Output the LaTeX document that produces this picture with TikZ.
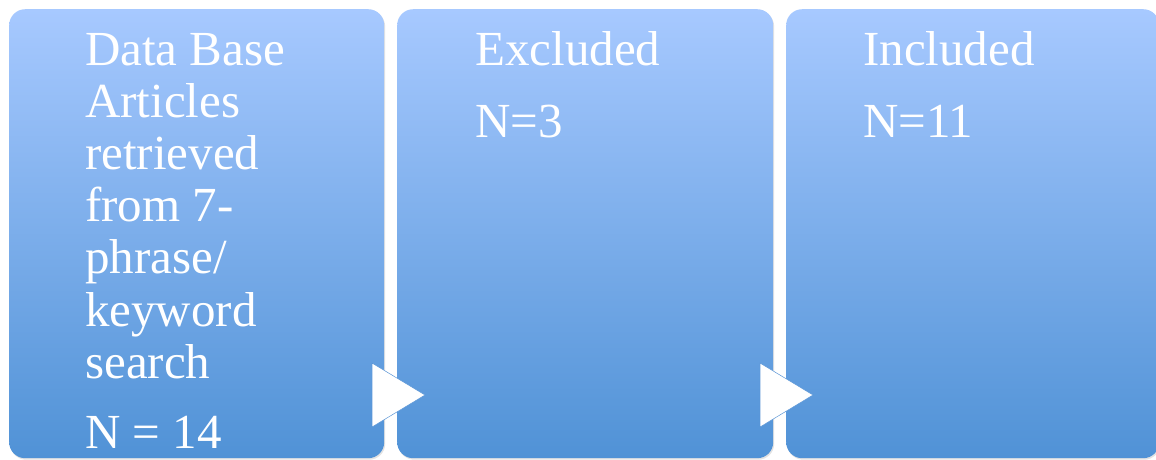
\documentclass[tikz,border=0pt]{standalone}
\usepackage{fontspec}
\setmainfont{Liberation Serif}
\usetikzlibrary{shadows}
\definecolor{boxtop}{RGB}{167,201,255}
\definecolor{boxbot}{RGB}{80,146,214}
\definecolor{tribord}{RGB}{91,150,215}
\begin{document}
\begin{tikzpicture}[x=1pt,y=-1pt,
  stagebox/.style={rectangle, rounded corners=16pt, top color=boxtop, bottom color=boxbot,
    draw=none, minimum width=375pt, minimum height=449pt, anchor=north west, inner sep=0pt,
    drop shadow={opacity=0.22, shadow xshift=1pt, shadow yshift=-1.5pt}},
  stagetext/.style={anchor=base west, inner sep=0pt, text=white,
    font=\fontsize{49}{52.2}\selectfont},
  arrowtri/.style={fill=white, draw=tribord, line width=0.5pt, line join=miter}]
\useasboundingbox (0,0) rectangle (1156,459);
\fill[white] (0,0) rectangle (1156,459);
\begin{scope}
\clip (0,0) rectangle (1156,459);
\node[stagebox] (b1) at (9,9) {};
\node[stagebox, minimum width=376pt] (b2) at (397,9) {};
\node[stagebox, minimum width=373pt] (b3) at (786,9) {};
\node[stagetext] (t1) at (85,65) {\parbox[t]{290pt}{\raggedright Data Base\\ Articles\\ retrieved\\ from 7-\\ phrase/\\ keyword\\ search\\[17.8pt] N = 14}};
\node[stagetext] (t2) at (475,65) {\parbox[t]{290pt}{\raggedright Excluded\\[19.8pt] N=3}};
\node[stagetext] (t3) at (863,65) {\parbox[t]{290pt}{\raggedright Included\\[19.8pt] N=11}};
\draw[arrowtri] (372,363) -- (425,395) -- (372,427) -- cycle;
\draw[arrowtri] (760,363) -- (813,395) -- (760,427) -- cycle;
\end{scope}
\end{tikzpicture}
\end{document}
